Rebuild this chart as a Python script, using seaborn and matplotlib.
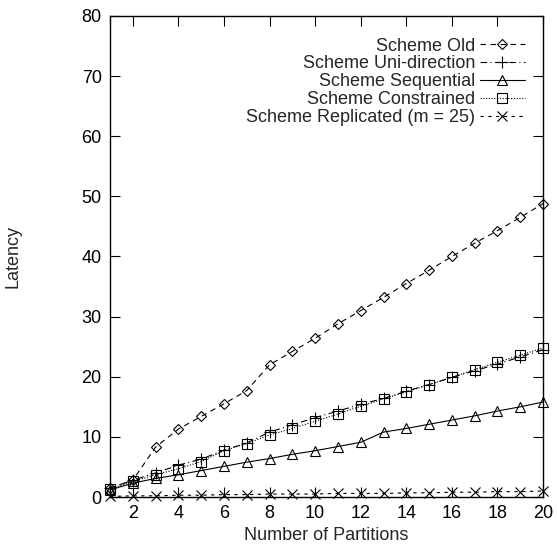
import matplotlib
matplotlib.use("Agg")
import matplotlib.pyplot as plt
import seaborn as sns

# partitions on the x axis
partitions = list(range(1, 21))

# latency values
old = [1.5, 2.8, 8.3, 11.3, 13.4, 15.5, 17.7, 22.0, 24.2, 26.4,
       28.8, 31.0, 33.2, 35.5, 37.7, 40.0, 42.2, 44.3, 46.5, 48.8]
uni = [1.5, 2.8, 4.0, 5.3, 6.3, 7.8, 9.0, 10.8, 12.0, 13.2,
       14.3, 15.4, 16.4, 17.6, 18.7, 19.9, 21.0, 22.1, 23.3, 24.5]
sequential = [1.2, 2.3, 3.1, 3.7, 4.4, 5.1, 5.8, 6.4, 7.1, 7.7,
              8.4, 9.1, 10.8, 11.4, 12.1, 12.8, 13.5, 14.3, 15.0, 15.8]
constrained = [1.3, 2.6, 3.7, 4.7, 5.9, 7.7, 8.9, 10.3, 11.4, 12.6,
               13.8, 15.1, 16.3, 17.5, 18.7, 19.9, 21.2, 22.4, 23.6, 24.8]
replicated = [0.1, 0.2, 0.2, 0.3, 0.3, 0.4, 0.4, 0.5, 0.5, 0.5,
              0.6, 0.6, 0.6, 0.7, 0.7, 0.8, 0.8, 0.9, 0.9, 1.0]

labels = ["Scheme Old", "Scheme Uni-direction", "Scheme Sequential",
          "Scheme Constrained", "Scheme Replicated (m = 25)"]

sns.set_style("ticks")
plt.rcParams['font.family'] = ['Liberation Sans', 'DejaVu Sans']

fig = plt.figure(figsize=(5.57, 5.48), dpi=100)
ax = fig.add_axes([0.1975, 0.093, 0.7775, 0.878])

styles = [
    ("D", (0, (5, 4)), 5.5),
    ("+", (0, (6, 3, 1, 3)), 8),
    ("^", "-", 7),
    ("s", (0, (1, 1.5)), 7),
    ("x", (0, (3, 4)), 7),
]
series = [old, uni, sequential, constrained, replicated]

for y, lab, (mk, ls, ms) in zip(series, labels, styles):
    sns.lineplot(x=partitions, y=y, ax=ax, color="black", linewidth=0.8,
                 linestyle=ls, marker=mk, markersize=ms,
                 markerfacecolor="none", markeredgecolor="black",
                 markeredgewidth=0.8, label=lab, clip_on=False)

ax.set_xlim(1, 20)
ax.set_ylim(0, 80)
ax.set_xticks(range(2, 21, 2))
ax.set_yticks(range(0, 81, 10))
ax.tick_params(direction="in", length=7, width=0.8, top=True, right=True,
               labelsize=13, pad=6, colors="black")
for sp in ax.spines.values():
    sp.set_linewidth(1.0)
    sp.set_color("black")

ax.set_xlabel("Number of Partitions", fontsize=13)
ax.set_ylabel("Latency", fontsize=13)
ax.xaxis.set_label_coords(0.5, -0.062)
ax.yaxis.set_label_coords(-0.205, 0.5)

ax.legend(loc="upper right", bbox_to_anchor=(0.958, 0.955), frameon=False,
          markerfirst=False, fontsize=13, handlelength=2.5,
          handletextpad=0.25, labelspacing=0.05, borderpad=0,
          borderaxespad=0)

fig.savefig("out.png", dpi=100)
